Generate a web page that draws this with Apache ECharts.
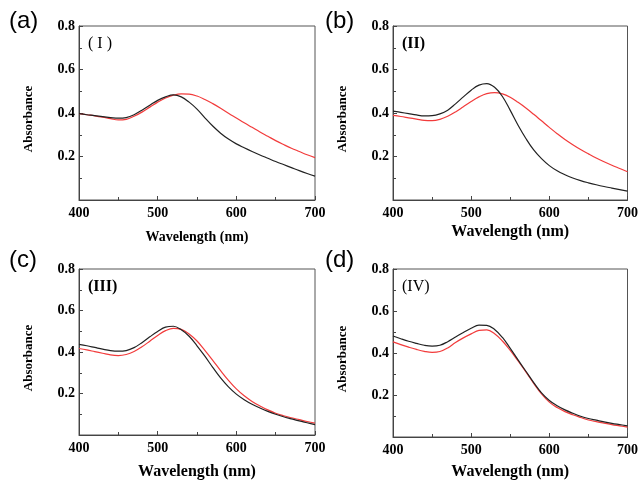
<!DOCTYPE html>
<html>
<head>
<meta charset="utf-8">
<title>Absorbance spectra</title>
<script src="https://cdn.jsdelivr.net/npm/echarts@6/dist/echarts.min.js"></script>
<style>
  html, body { margin: 0; padding: 0; background: #fff; }
  #chart { width: 641px; height: 481px; }
</style>
</head>
<body>
<div id="chart"></div>
<script type="text/javascript">
    // wavelength grid (nm)
    var wavelength = [400, 410, 420, 430, 440, 450, 460, 470, 480, 490, 500,
        510, 520, 530, 540, 550, 560, 570, 580, 590, 600,
        610, 620, 630, 640, 650, 660, 670, 680, 690, 700];

    var blackA = [0.397, 0.392, 0.388, 0.383, 0.379, 0.376, 0.379, 0.392, 0.413, 0.436, 0.458,
        0.474, 0.483, 0.474, 0.450, 0.418, 0.378, 0.340, 0.307, 0.280, 0.258,
        0.240, 0.223, 0.207, 0.192, 0.177, 0.163, 0.149, 0.135, 0.122, 0.110];
    var redA = [0.397, 0.392, 0.387, 0.381, 0.374, 0.368, 0.371, 0.385, 0.404, 0.427, 0.450,
        0.469, 0.482, 0.488, 0.487, 0.478, 0.462, 0.443, 0.422, 0.399, 0.377,
        0.355, 0.334, 0.313, 0.293, 0.273, 0.255, 0.238, 0.223, 0.208, 0.195];

    var blackB = [0.409, 0.403, 0.397, 0.391, 0.387, 0.388, 0.396, 0.413, 0.442, 0.474, 0.505,
        0.528, 0.535, 0.518, 0.476, 0.412, 0.344, 0.283, 0.230, 0.190, 0.158,
        0.134, 0.116, 0.101, 0.089, 0.079, 0.070, 0.062, 0.055, 0.048, 0.041];
    var redB = [0.389, 0.384, 0.378, 0.372, 0.366, 0.365, 0.371, 0.385, 0.405, 0.429, 0.453,
        0.474, 0.489, 0.494, 0.488, 0.472, 0.449, 0.423, 0.394, 0.364, 0.334,
        0.305, 0.278, 0.254, 0.232, 0.212, 0.193, 0.176, 0.160, 0.145, 0.130];

    var blackC = [0.437, 0.430, 0.422, 0.414, 0.407, 0.404, 0.407, 0.421, 0.445, 0.473, 0.499,
        0.520, 0.524, 0.507, 0.476, 0.430, 0.380, 0.326, 0.275, 0.232, 0.197,
        0.170, 0.148, 0.130, 0.114, 0.100, 0.088, 0.078, 0.068, 0.059, 0.050];
    var redC = [0.417, 0.410, 0.402, 0.394, 0.386, 0.383, 0.388, 0.402, 0.425, 0.452, 0.480,
        0.503, 0.514, 0.509, 0.487, 0.453, 0.408, 0.360, 0.310, 0.263, 0.222,
        0.189, 0.162, 0.140, 0.121, 0.105, 0.093, 0.083, 0.074, 0.065, 0.057];

    var blackD = [0.481, 0.468, 0.456, 0.446, 0.437, 0.433, 0.437, 0.454, 0.476, 0.498, 0.518,
        0.533, 0.532, 0.512, 0.474, 0.422, 0.367, 0.313, 0.259, 0.210, 0.174,
        0.149, 0.129, 0.113, 0.099, 0.088, 0.080, 0.072, 0.065, 0.059, 0.053];
    var redD = [0.453, 0.440, 0.428, 0.417, 0.408, 0.403, 0.407, 0.424, 0.450, 0.472, 0.491,
        0.508, 0.510, 0.492, 0.457, 0.412, 0.362, 0.310, 0.255, 0.205, 0.166,
        0.140, 0.121, 0.106, 0.093, 0.081, 0.073, 0.066, 0.059, 0.053, 0.047];

    var panelLetters = ['(a)', '(b)', '(c)', '(d)'];
    var panelNumerals = ['( I )', '(II)', '(III)', '(IV)'];
    var xTicks = [400, 500, 600, 700];
    var yTicks = [0.2, 0.4, 0.6, 0.8];

    var blackSets = [blackA, blackB, blackC, blackD];
    var redSets = [redA, redB, redC, redD];

    var serif = '"Liberation Serif", "Times New Roman", serif';
    var grids = [
        {left: 79, top: 26, width: 236, height: 174},
        {left: 393, top: 26, width: 235, height: 174},
        {left: 79, top: 269, width: 236, height: 172},
        {left: 393, top: 269, width: 235, height: 172}
    ];
    var xNameGap = [30, 24, 29, 27];
    var xNameSize = [14, 16, 16, 16];
    var numeralBold = ['normal', 'bold', 'bold', 'normal'];

    function pairs(ys) {
        var out = [];
        for (var i = 0; i < wavelength.length; i++) {
            out.push([wavelength[i], ys[i]]);
        }
        return out;
    }

    var xAxes = [], yAxes = [], series = [], graphics = [];
    for (var k = 0; k < 4; k++) {
        var g = grids[k];
        g.show = true;
        g.borderColor = '#555';
        g.borderWidth = 1;
        g.containLabel = false;

        xAxes.push({
            gridIndex: k,
            type: 'value',
            min: xTicks[0],
            max: xTicks[xTicks.length - 1],
            interval: 100,
            name: 'Wavelength (nm)',
            nameLocation: 'middle',
            nameGap: xNameGap[k],
            nameTextStyle: {fontFamily: serif, fontWeight: 'bold', fontSize: xNameSize[k], color: '#000'},
            axisLine: {lineStyle: {color: '#444', width: 1}},
            axisTick: {inside: true, length: 4, lineStyle: {color: '#444'}},
            minorTick: {show: true, splitNumber: 2, length: 3, lineStyle: {color: '#444'}},
            splitLine: {show: false},
            axisLabel: {margin: 6, fontFamily: serif, fontWeight: 'bold', fontSize: 14, color: '#000'}
        });
        yAxes.push({
            gridIndex: k,
            type: 'value',
            min: 0,
            max: yTicks[yTicks.length - 1],
            interval: 0.2,
            name: 'Absorbance',
            nameLocation: 'middle',
            nameRotate: 90,
            nameGap: 44,
            nameTextStyle: {fontFamily: serif, fontWeight: 'bold', fontSize: 13, color: '#000', padding: [0, 0, 0, -12]},
            axisLine: {lineStyle: {color: '#444', width: 1}},
            axisTick: {inside: true, length: 4, lineStyle: {color: '#444'}},
            minorTick: {show: true, splitNumber: 2, length: 3, lineStyle: {color: '#444'}},
            splitLine: {show: false},
            axisLabel: {
                margin: 4, fontFamily: serif, fontWeight: 'bold', fontSize: 14, color: '#000',
                formatter: function (v) { return v === 0 ? '' : v.toFixed(1); }
            }
        });
        series.push({
            type: 'line', xAxisIndex: k, yAxisIndex: k,
            data: pairs(blackSets[k]), smooth: 0.4, showSymbol: false,
            lineStyle: {color: '#222', width: 1.2}, z: 3
        });
        series.push({
            type: 'line', xAxisIndex: k, yAxisIndex: k,
            data: pairs(redSets[k]), smooth: 0.4, showSymbol: false,
            lineStyle: {color: '#f23b3b', width: 1.2}, z: 2
        });

        var col = k % 2, row = Math.floor(k / 2);
        graphics.push({
            type: 'text',
            left: col === 0 ? 9 : 325,
            top: row === 0 ? 9 : 248,
            style: {text: panelLetters[k], font: '24px "Liberation Sans", Arial, sans-serif', fill: '#000'}
        });
        graphics.push({
            type: 'text',
            left: g.left + 9,
            top: g.top + 10,
            style: {
                text: panelNumerals[k],
                font: numeralBold[k] + ' 16px "Liberation Serif", "Times New Roman", serif',
                fill: '#000'
            }
        });
    }

    var myChart = echarts.init(document.getElementById('chart'));
    myChart.setOption({
        backgroundColor: '#fff',
        animation: false,
        grid: grids,
        xAxis: xAxes,
        yAxis: yAxes,
        series: series,
        graphic: graphics
    });
</script>
</body>
</html>
